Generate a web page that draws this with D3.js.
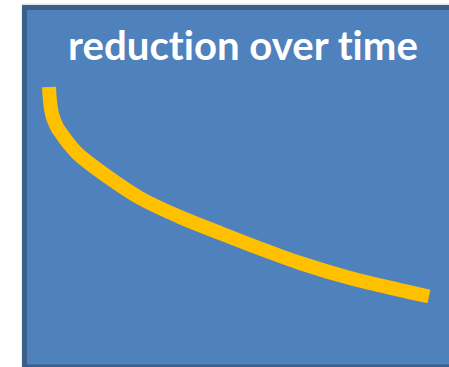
<!DOCTYPE html>
<html><head><meta charset="utf-8">
<script src="https://cdn.jsdelivr.net/npm/d3@7"></script>
<style>html,body{margin:0;padding:0;background:#fff;overflow:hidden}svg{display:block}</style>
</head><body>
<svg id="c" width="449" height="367"></svg>
<script>
const title = "reduction over time";
const times  = [0, 0.16, 0.42, 0.79, 1.39, 2.24, 3.42, 5.26, 7.63, 15.53, 23.95, 34.47, 45, 55.53, 66.05, 79.21, 92.37, 100];
const values = [100, 95.24, 90.95, 87.14, 83.81, 80.48, 77.38, 72.86, 68.1, 57.14, 47.14, 38.1, 30.48, 23.1, 16.19, 9.05, 3.33, 0.24];

const svg = d3.select("#c");
svg.append("rect").attr("x", 21.5).attr("y", 3.5).attr("width", 600).attr("height", 600)
  .attr("fill", "#dfe3e8");
svg.append("rect").attr("x", 22).attr("y", 5).attr("width", 600).attr("height", 600)
  .attr("fill", "#4f81bd");
const bc = "#3a5f8b";
svg.append("line").attr("x1", 24.5).attr("x2", 24.5).attr("y1", 5).attr("y2", 367)
  .attr("stroke", bc).attr("stroke-width", 5);
svg.append("line").attr("x1", 22).attr("x2", 449).attr("y1", 7.5).attr("y2", 7.5)
  .attr("stroke", bc).attr("stroke-width", 5);
svg.append("line").attr("x1", 22).attr("x2", 449).attr("y1", 367).attr("y2", 367)
  .attr("stroke", bc).attr("stroke-width", 5);

const x = d3.scaleLinear().domain([0, 100]).range([49, 429]);
const y = d3.scaleLinear().domain([0, 100]).range([297, 87]);
const data = times.map((t, i) => ({t, v: values[i]}));
const line = d3.line().x(d => x(d.t)).y(d => y(d.v)).curve(d3.curveCatmullRom.alpha(0.5));
svg.append("path").datum(data).attr("d", line).attr("fill", "none")
  .attr("stroke", "#ffc000").attr("stroke-width", 14).attr("stroke-linecap", "butt");

const t = svg.append("text").attr("x", 243).attr("y", 60).attr("text-anchor", "middle")
  .attr("fill", "#ffffff").attr("font-family", "Lato, 'Open Sans', sans-serif")
  .style("font-variant-ligatures", "none")
  .attr("font-weight", "bold").attr("font-size", 30).text(title);
const w = t.node().getComputedTextLength();
t.attr("font-size", 30 * 350 / w);
</script>
</body></html>
